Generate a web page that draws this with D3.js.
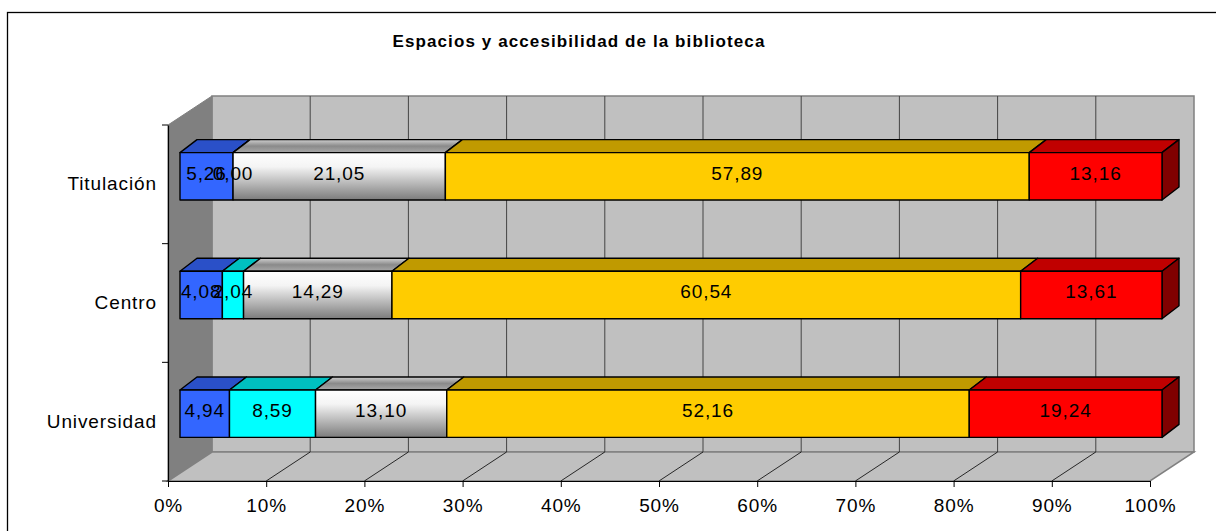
<!DOCTYPE html>
<meta charset="utf-8">
<style>
body {
    margin: 0;
    background: white;
    font-family: "Liberation Sans", Arial, sans-serif;
}

.title {
    font-size: 17px;
    font-weight: bold;
    letter-spacing: 1.1px;
}

.lbl {
    font-size: 19px;
    letter-spacing: 0.9px;
    fill: #000;
}

.wall-grid {
    stroke: #444;
    stroke-width: 1;
}

.floor-grid {
    stroke: #000;
    stroke-width: 0.8;
}

.face {
    stroke: #000;
    stroke-width: 1.4;
    stroke-linejoin: round;
}
</style>

<body>
    <script src="https://d3js.org/d3.v7.min.js"></script>
    <script>
    // chart data
    var categories = ["Titulación", "Centro", "Universidad"];
    var serie1 = [5.26, 4.08, 4.94];
    var serie2 = [0.00, 2.04, 8.59];
    var serie3 = [21.05, 14.29, 13.10];
    var serie4 = [57.89, 60.54, 52.16];
    var serie5 = [13.16, 13.61, 19.24];
    var tickValues = [0, 10, 20, 30, 40, 50, 60, 70, 80, 90, 100];
    var title = "Espacios y accesibilidad de la biblioteca";

    var series = [serie1, serie2, serie3, serie4, serie5];

    // colours for front / top / side faces of every series
    var front = ["#3366ff", "#00ffff", "url(#grayFront)", "#ffcc00", "#ff0000"];
    var top3d = ["#2a50c8", "#00c0c0", "url(#grayTop)", "#c09a00", "#c00000"];
    var side3d = ["#1f3c96", "#008f8f", "#606060", "#8f7300", "#800000"];

    // setting up canvas size
    var width = 1216,
        height = 531;

    // floor front edge, wall depth and bar depth
    var plot = { left: 168, right: 1150, top: 125, bottom: 481 },
        wall = { dx: 44, dy: -29 },
        barOff = { dx: 12, dy: -8 },
        barDepth = { dx: 17, dy: -13 };

    // x scale (percent)
    var x = d3.scaleLinear()
        .domain([0, 100])
        .range([plot.left, plot.right]);

    // y scale (categories)
    var y = d3.scaleBand()
        .domain(categories)
        .range([plot.top, plot.bottom]);

    var barH = y.bandwidth() * 0.4;

    var fmt = d3.formatLocale({ decimal: ",", thousands: ".", grouping: [3], currency: ["", ""] }).format(".2f");

    var svg = d3.select("body")
        .append("svg")
        .attr("width", width)
        .attr("height", height);

    // gradients for the grey series
    var defs = svg.append("defs");
    var gf = defs.append("linearGradient")
        .attr("id", "grayFront")
        .attr("x1", 0).attr("y1", 0).attr("x2", 0).attr("y2", 1);
    gf.append("stop").attr("offset", "0%").attr("stop-color", "#ffffff");
    gf.append("stop").attr("offset", "30%").attr("stop-color", "#f4f4f4");
    gf.append("stop").attr("offset", "100%").attr("stop-color", "#7c7c7c");
    var gt = defs.append("linearGradient")
        .attr("id", "grayTop")
        .attr("x1", 0).attr("y1", 0).attr("x2", 0).attr("y2", 1);
    gt.append("stop").attr("offset", "0%").attr("stop-color", "#cfcfcf");
    gt.append("stop").attr("offset", "50%").attr("stop-color", "#8a8a8a");
    gt.append("stop").attr("offset", "100%").attr("stop-color", "#a8a8a8");

    // outer border
    svg.append("rect")
        .attr("x", 7.5)
        .attr("y", 12.5)
        .attr("width", width + 20)
        .attr("height", height + 20)
        .attr("fill", "white")
        .attr("stroke", "#000")
        .attr("stroke-width", 1.3);

    // title
    svg.append("text")
        .attr("class", "title")
        .attr("x", 579)
        .attr("y", 47)
        .attr("text-anchor", "middle")
        .text(title);

    function pts(arr) {
        return arr.map(function(p) { return p.join(","); }).join(" ");
    }

    var x0 = x(0), x1 = x(100);

    // back wall
    svg.append("polygon")
        .attr("points", pts([
            [x0 + wall.dx, plot.top + wall.dy], [x1 + wall.dx, plot.top + wall.dy],
            [x1 + wall.dx, plot.bottom + wall.dy], [x0 + wall.dx, plot.bottom + wall.dy]
        ]))
        .attr("fill", "#c0c0c0")
        .attr("stroke", "#808080")
        .attr("stroke-width", 1.5);

    // left wall
    svg.append("polygon")
        .attr("points", pts([
            [x0, plot.top], [x0 + wall.dx, plot.top + wall.dy],
            [x0 + wall.dx, plot.bottom + wall.dy], [x0, plot.bottom]
        ]))
        .attr("fill", "#808080")
        .attr("stroke", "#808080")
        .attr("stroke-width", 1);

    // floor
    svg.append("polygon")
        .attr("points", pts([
            [x0, plot.bottom], [x0 + wall.dx, plot.bottom + wall.dy],
            [x1 + wall.dx, plot.bottom + wall.dy], [x1, plot.bottom]
        ]))
        .attr("fill", "#c0c0c0")
        .attr("stroke", "#808080")
        .attr("stroke-width", 1.5);

    // wall gridlines
    svg.selectAll(".wall-grid")
        .data(tickValues.slice(1, -1))
        .enter()
        .append("line")
        .attr("class", "wall-grid")
        .attr("x1", function(d) { return x(d) + wall.dx; })
        .attr("x2", function(d) { return x(d) + wall.dx; })
        .attr("y1", plot.top + wall.dy)
        .attr("y2", plot.bottom + wall.dy);

    // floor gridlines
    svg.selectAll(".floor-grid")
        .data(tickValues.slice(1, -1))
        .enter()
        .append("line")
        .attr("class", "floor-grid")
        .attr("x1", function(d) { return x(d); })
        .attr("x2", function(d) { return x(d) + wall.dx; })
        .attr("y1", plot.bottom)
        .attr("y2", plot.bottom + wall.dy);

    // x axis
    var xAxis = svg.append("g")
        .attr("transform", "translate(0," + plot.bottom + ")")
        .call(d3.axisBottom(x).tickValues(tickValues).tickSize(6).tickPadding(5)
            .tickFormat(function(d) { return d + "%"; }));
    xAxis.select(".domain").attr("stroke", "#000");
    xAxis.selectAll(".tick line").attr("stroke", "#000");
    xAxis.selectAll("text")
        .attr("class", "lbl")
        .attr("font-family", null)
        .attr("font-size", null)
        .attr("dy", "1.05em");

    // y axis
    var yAxis = svg.append("g")
        .attr("transform", "translate(" + plot.left + ",0)")
        .call(d3.axisLeft(y).tickSize(0).tickPadding(11));
    yAxis.select(".domain").attr("stroke", "#000").attr("stroke-width", 1.2);
    yAxis.selectAll("text")
        .attr("class", "lbl")
        .attr("font-family", null)
        .attr("font-size", null);
    // category separator ticks
    yAxis.selectAll(".sep")
        .data([plot.top, y("Centro"), y("Universidad"), plot.bottom])
        .enter()
        .append("line")
        .attr("class", "sep")
        .attr("x1", -6)
        .attr("x2", 0)
        .attr("y1", function(d) { return d; })
        .attr("y2", function(d) { return d; })
        .attr("stroke", "#000");

    // stacked bars, normalised to 100%
    var labels = [];
    categories.forEach(function(cat, ci) {
        var total = d3.sum(series, function(s) { return s[ci]; });
        var cy = y(cat) + y.bandwidth() / 2 + barOff.dy;
        var yt = cy - barH / 2, yb = cy + barH / 2;
        var acc = 0;
        var g = svg.append("g");
        series.forEach(function(s, si) {
            var xa = x(acc / total * 100) + barOff.dx;
            acc += s[ci];
            var xb = x(acc / total * 100) + barOff.dx;
            // top face
            g.append("polygon")
                .attr("class", "face")
                .attr("points", pts([[xa, yt], [xa + barDepth.dx, yt + barDepth.dy],
                    [xb + barDepth.dx, yt + barDepth.dy], [xb, yt]]))
                .attr("fill", top3d[si]);
            // side face on the last segment
            if (si === series.length - 1) {
                g.append("polygon")
                    .attr("class", "face")
                    .attr("points", pts([[xb, yt], [xb + barDepth.dx, yt + barDepth.dy],
                        [xb + barDepth.dx, yb + barDepth.dy], [xb, yb]]))
                    .attr("fill", side3d[si]);
            }
            // front face
            g.append("rect")
                .attr("class", "face")
                .attr("x", xa)
                .attr("y", yt)
                .attr("width", Math.max(0, xb - xa))
                .attr("height", barH)
                .attr("fill", front[si]);
            labels.push({ x: (xa + xb) / 2, y: cy, v: s[ci] });
        });
    });

    // data labels
    svg.selectAll(".dlabel")
        .data(labels)
        .enter()
        .append("text")
        .attr("class", "lbl dlabel")
        .attr("x", function(d) { return d.x; })
        .attr("y", function(d) { return d.y; })
        .attr("dy", "0.18em")
        .attr("text-anchor", "middle")
        .text(function(d) { return fmt(d.v); });
    </script>
</body>
